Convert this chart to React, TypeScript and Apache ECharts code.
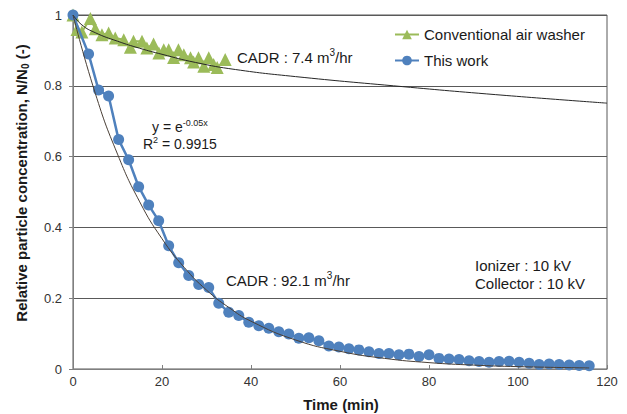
import React, { useEffect, useRef } from "react";
import * as echarts from "echarts";

const FONT = "'Liberation Sans', Arial, sans-serif";

const seriesNames = ["Conventional air washer", "This work"];

// Conventional air washer (time in min, N/N0)
const convTime = [0, 0.9, 2.0, 3.9, 5.0, 6.5, 8.0, 9.5, 11.4, 12.9, 13.6, 15.5, 16.6, 18.1, 19.3, 20.4, 21.5, 22.6, 23.7, 24.9, 26.4, 27.1, 28.2, 29.4, 30.5, 31.6, 32.4, 34.2];
const convValue = [1.0, 0.959, 0.952, 0.99, 0.961, 0.944, 0.949, 0.935, 0.93, 0.909, 0.926, 0.926, 0.907, 0.918, 0.893, 0.902, 0.902, 0.88, 0.902, 0.888, 0.879, 0.867, 0.879, 0.855, 0.879, 0.86, 0.852, 0.874];

// This work
const workTime = [0, 3.5, 5.75, 8, 10.25, 12.5, 14.75, 17, 19.25, 21.5, 23.75, 26, 28.25, 30.5, 32.75, 35, 37.25, 39.5, 41.75, 44, 46.25, 48.5, 50.75, 53, 55.25, 57.5, 59.75, 62, 64.25, 66.5, 68.75, 71, 73.25, 75.5, 77.75, 80, 82.25, 84.5, 86.75, 89, 91.25, 93.5, 95.75, 98, 100.25, 102.5, 104.75, 107, 109.25, 111.5, 113.75, 116];
const workValue = [1.0, 0.89, 0.788, 0.771, 0.648, 0.591, 0.515, 0.463, 0.419, 0.348, 0.3, 0.264, 0.239, 0.23, 0.186, 0.16, 0.151, 0.132, 0.122, 0.115, 0.105, 0.099, 0.087, 0.088, 0.08, 0.065, 0.062, 0.057, 0.054, 0.049, 0.044, 0.044, 0.04, 0.042, 0.035, 0.04, 0.03, 0.028, 0.027, 0.023, 0.021, 0.019, 0.021, 0.022, 0.019, 0.016, 0.013, 0.014, 0.013, 0.011, 0.01, 0.009];

// Trend line of conventional washer
const convFitTime = [0, 2, 5, 10, 15, 20, 27.5, 36.5, 50, 72, 95, 120];
const convFitValue = [1.0, 0.972, 0.95, 0.926, 0.906, 0.889, 0.866, 0.846, 0.826, 0.8, 0.775, 0.751];

// Trend line of this work (y = e^-0.05x)
const workFitTime = [0, 5, 10, 15, 20, 25, 30, 35, 40, 50, 60, 70, 80, 90, 100, 116];
const workFitValue = [1.0, 0.779, 0.607, 0.472, 0.368, 0.287, 0.223, 0.174, 0.135, 0.082, 0.05, 0.03, 0.018, 0.011, 0.0067, 0.003];

const xTicks = { min: 0, max: 120, interval: 20 };
const yTicks = { min: 0, max: 1, interval: 0.2 };

const zip = (a: number[], b: number[]) => a.map((t, i) => [t, b[i]]);

export default function App() {
  const ref = useRef<HTMLDivElement>(null);
  useEffect(() => {
    if (!ref.current) return;
    const chart = echarts.init(ref.current, undefined, { renderer: "svg" });
    const txt = { fontFamily: FONT, fontSize: 15, fill: "#1a1a1a" };
    const rich15 = {
      a: { fontFamily: FONT, fontSize: 15, lineHeight: 19, fill: "#1a1a1a" },
      s: { fontFamily: FONT, fontSize: 10, lineHeight: 12, verticalAlign: "top", fill: "#1a1a1a" },
    };
    const rich14 = {
      a: { fontFamily: FONT, fontSize: 14, lineHeight: 18, fill: "#1a1a1a" },
      s: { fontFamily: FONT, fontSize: 9, lineHeight: 11, verticalAlign: "top", fill: "#1a1a1a" },
    };
    chart.setOption({
      animation: false,
      backgroundColor: "#ffffff",
      grid: { left: 73, top: 15, width: 534, height: 354, show: true, borderColor: "#595959", borderWidth: 1, backgroundColor: "transparent" },
      legend: {
        data: seriesNames,
        orient: "vertical",
        left: 389,
        top: 22,
        itemWidth: 24,
        itemHeight: 12,
        itemGap: 11,
        textStyle: { fontFamily: FONT, fontSize: 15, color: "#1a1a1a" },
      },
      xAxis: {
        type: "value",
        min: xTicks.min,
        max: xTicks.max,
        interval: xTicks.interval,
        axisLine: { show: true, lineStyle: { color: "#7f7f7f" } },
        axisTick: { show: true, inside: true, length: 4, lineStyle: { color: "#7f7f7f" } },
        axisLabel: { fontFamily: FONT, fontSize: 13, color: "#333", margin: 6 },
        splitLine: { show: false },
      },
      yAxis: {
        type: "value",
        min: yTicks.min,
        max: yTicks.max,
        interval: yTicks.interval,
        axisLine: { show: true, lineStyle: { color: "#7f7f7f" } },
        axisTick: { show: true, inside: false, length: 4, lineStyle: { color: "#7f7f7f" } },
        axisLabel: { fontFamily: FONT, fontSize: 13, color: "#333", margin: 11 },
        splitLine: { show: true, lineStyle: { color: "#595959", width: 1 } },
      },
      series: [
        {
          name: seriesNames[0],
          type: "line",
          data: zip(convTime, convValue),
          symbol: "triangle",
          symbolSize: 13,
          itemStyle: { color: "#9BBB59" },
          lineStyle: { color: "#9BBB59", width: 2 },
          z: 2,
        },
        {
          name: seriesNames[1],
          type: "line",
          data: zip(workTime, workValue),
          symbol: "circle",
          symbolSize: 11,
          itemStyle: { color: "#4F81BD" },
          lineStyle: { color: "#4F81BD", width: 2.5 },
          z: 3,
        },
        {
          name: "fit-conv",
          type: "line",
          data: zip(convFitTime, convFitValue),
          smooth: true,
          showSymbol: false,
          symbol: "none",
          lineStyle: { color: "#262626", width: 1 },
          z: 4,
        },
        {
          name: "fit-work",
          type: "line",
          data: zip(workFitTime, workFitValue),
          smooth: true,
          showSymbol: false,
          symbol: "none",
          lineStyle: { color: "#4a3f36", width: 1 },
          z: 4,
        },
      ],
      graphic: [
        {
          type: "text",
          x: 21,
          y: 183,
          rotation: Math.PI / 2,
          style: {
            text: "{a|Relative particle concentration, N/N}{b|0}{a| (-)}",
            align: "center",
            verticalAlign: "middle",
            rich: {
              a: { fontFamily: FONT, fontSize: 15, fontWeight: "bold", lineHeight: 19, fill: "#1a1a1a" },
              b: { fontFamily: FONT, fontSize: 10, fontWeight: "bold", lineHeight: 11, verticalAlign: "bottom", fill: "#1a1a1a" },
            },
          },
        },
        {
          type: "text",
          x: 341,
          y: 404,
          style: { text: "Time (min)", align: "center", verticalAlign: "middle", fontFamily: FONT, fontSize: 15, fontWeight: "bold", fill: "#1a1a1a" },
        },
        {
          type: "text",
          x: 237,
          y: 57,
          style: { text: "{a|CADR : 7.4 m}{s|3}{a|/hr}", verticalAlign: "middle", rich: rich15 },
        },
        {
          type: "text",
          x: 152,
          y: 127,
          style: { text: "{a|y = e}{s|-0.05x}", verticalAlign: "middle", rich: rich14 },
        },
        {
          type: "text",
          x: 143,
          y: 144,
          style: { text: "{a|R}{s|2}{a| = 0.9915}", verticalAlign: "middle", rich: rich14 },
        },
        {
          type: "text",
          x: 226,
          y: 280,
          style: { text: "{a|CADR : 92.1 m}{s|3}{a|/hr}", verticalAlign: "middle", rich: rich15 },
        },
        {
          type: "text",
          x: 475,
          y: 265,
          style: { ...txt, text: "Ionizer : 10 kV", verticalAlign: "middle" },
        },
        {
          type: "text",
          x: 475,
          y: 283,
          style: { ...txt, text: "Collector : 10 kV", verticalAlign: "middle" },
        },
      ],
    });
    return () => chart.dispose();
  }, []);
  return (
    <div
      ref={ref}
      style={{ position: "absolute", left: 0, top: 0, width: 627, height: 414, background: "#fff" }}
    />
  );
}
